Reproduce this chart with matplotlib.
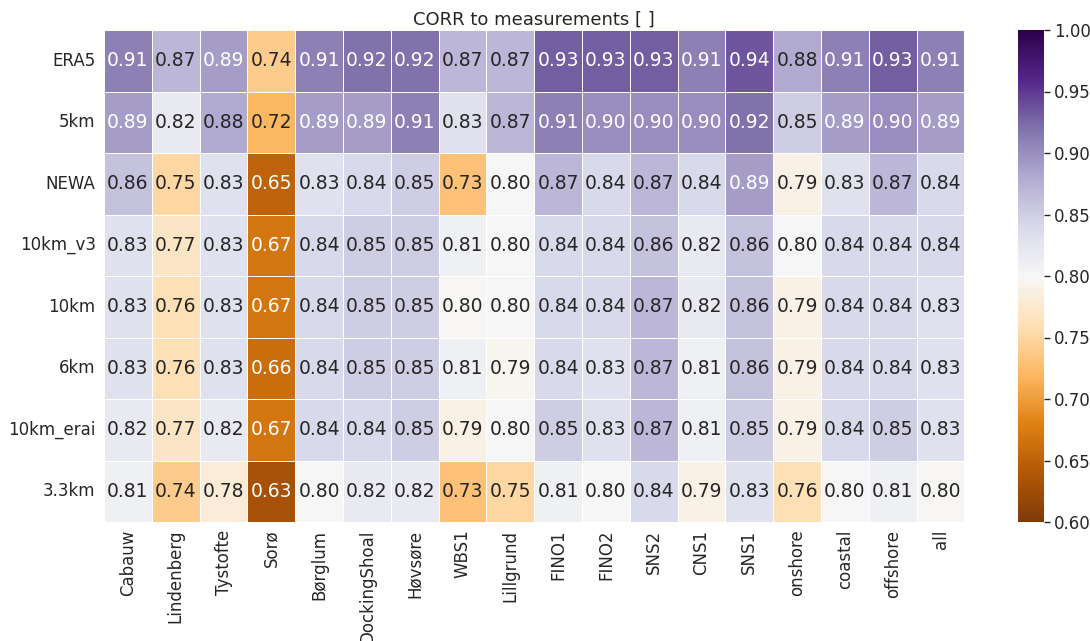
import matplotlib
matplotlib.use('Agg')
import matplotlib.pyplot as plt
import seaborn as sns
import numpy as np

stations = ['Cabauw', 'Lindenberg', 'Tystofte', 'Sorø', 'Børglum', 'DockingShoal', 'Høvsøre', 'WBS1',
            'Lillgrund', 'FINO1', 'FINO2', 'SNS2', 'CNS1', 'SNS1', 'onshore', 'coastal', 'offshore', 'all']
runs = ['ERA5', '5km', 'NEWA', '10km_v3', '10km', '6km', '10km_erai', '3.3km']

# a few cells carry a third decimal, estimated from their colour
era5 = [0.91, 0.87, 0.89, 0.74, 0.91, 0.92, 0.92, 0.87, 0.87, 0.93, 0.93, 0.93, 0.91, 0.935, 0.88, 0.91, 0.93, 0.91]
km5 = [0.89, 0.82, 0.88, 0.72, 0.89, 0.89, 0.91, 0.83, 0.87, 0.91, 0.90, 0.90, 0.90, 0.92, 0.85, 0.89, 0.90, 0.89]
newa = [0.86, 0.75, 0.83, 0.65, 0.83, 0.84, 0.85, 0.73, 0.80, 0.87, 0.84, 0.87, 0.84, 0.89, 0.79, 0.83, 0.87, 0.84]
km10_v3 = [0.83, 0.77, 0.83, 0.67, 0.84, 0.85, 0.85, 0.81, 0.80, 0.84, 0.84, 0.86, 0.82, 0.86, 0.80, 0.84, 0.84, 0.84]
km10 = [0.83, 0.76, 0.83, 0.67, 0.84, 0.85, 0.85, 0.797, 0.80, 0.84, 0.84, 0.87, 0.82, 0.86, 0.79, 0.84, 0.84, 0.83]
km6 = [0.83, 0.76, 0.83, 0.66, 0.84, 0.85, 0.85, 0.81, 0.794, 0.84, 0.83, 0.87, 0.81, 0.86, 0.79, 0.84, 0.84, 0.83]
km10_erai = [0.82, 0.77, 0.82, 0.67, 0.84, 0.84, 0.85, 0.79, 0.80, 0.85, 0.83, 0.87, 0.81, 0.85, 0.79, 0.84, 0.85, 0.83]
km3_3 = [0.81, 0.74, 0.78, 0.63, 0.80, 0.82, 0.82, 0.73, 0.75, 0.81, 0.80, 0.84, 0.79, 0.83, 0.76, 0.80, 0.81, 0.797]

corr = np.array([era5, km5, newa, km10_v3, km10, km6, km10_erai, km3_3])

sns.set_theme(style='darkgrid', font_scale=1.0)
plt.rcParams['font.family'] = ['DejaVu Sans']

fig = plt.figure(figsize=(10.9, 6.41), dpi=100)
ax = fig.add_axes([104 / 1090, 1 - 522 / 641, (964.5 - 104) / 1090, (522 - 30) / 641])
cax = fig.add_axes([1018 / 1090, 1 - 522 / 641, (1044 - 1018) / 1090, (522 - 30) / 641])

sns.heatmap(corr, ax=ax, cbar_ax=cax, cmap='PuOr', vmin=0.6, vmax=1.0, annot=True, fmt='.2f',
            annot_kws={'size': 13.5}, linewidths=0.5, linecolor='white',
            xticklabels=stations, yticklabels=runs)

ax.set_title('CORR to measurements [ ]', fontsize=13, pad=4, color='#262626')
ax.tick_params(axis='x', labelsize=12, rotation=90, length=0, pad=5.5, colors='#262626')
ax.tick_params(axis='y', labelsize=12, rotation=0, length=0, pad=6, colors='#262626')
cax.set_yticks([0.6, 0.65, 0.7, 0.75, 0.8, 0.85, 0.9, 0.95, 1.0])
cax.set_yticklabels(['0.60', '0.65', '0.70', '0.75', '0.80', '0.85', '0.90', '0.95', '1.00'])
cax.tick_params(labelsize=12, length=4, width=1, pad=3, color='#262626', labelcolor='#262626')

fig.savefig('out.png', dpi=100)
